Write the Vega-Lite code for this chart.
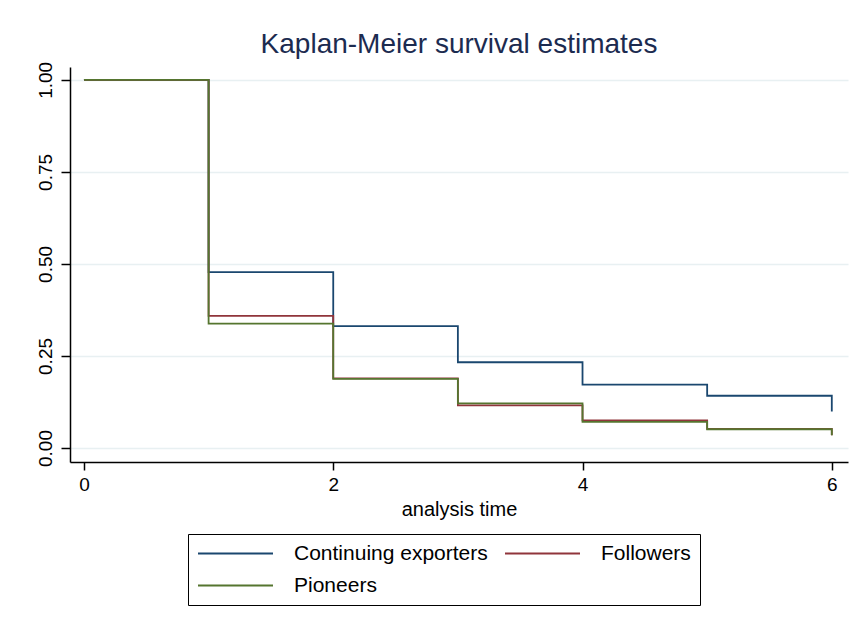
{
  "$schema": "https://vega.github.io/schema/vega-lite/v6.json",
  "width": 778,
  "height": 395,
  "autosize": {"type": "none"},
  "padding": {"left": 70, "top": 67, "right": 8, "bottom": 169},
  "background": "white",
  "title": {
    "text": "Kaplan-Meier survival estimates",
    "font": "Liberation Sans",
    "fontSize": 28,
    "fontWeight": "normal",
    "color": "#1c2b50",
    "anchor": "middle",
    "frame": "group",
    "baseline": "alphabetic",
    "offset": -20
  },
  "data": {
    "values": [
      {"group": "Continuing exporters", "t": 0, "s": 1},
      {"group": "Continuing exporters", "t": 1, "s": 0.478},
      {"group": "Continuing exporters", "t": 2, "s": 0.331},
      {"group": "Continuing exporters", "t": 3, "s": 0.233},
      {"group": "Continuing exporters", "t": 4, "s": 0.172},
      {"group": "Continuing exporters", "t": 5, "s": 0.142},
      {"group": "Continuing exporters", "t": 6, "s": 0.099},
      {"group": "Followers", "t": 0, "s": 1},
      {"group": "Followers", "t": 1, "s": 0.359},
      {"group": "Followers", "t": 2, "s": 0.189},
      {"group": "Followers", "t": 3, "s": 0.116},
      {"group": "Followers", "t": 4, "s": 0.075},
      {"group": "Followers", "t": 5, "s": 0.052},
      {"group": "Followers", "t": 6, "s": 0.035},
      {"group": "Pioneers", "t": 0, "s": 1},
      {"group": "Pioneers", "t": 1, "s": 0.338},
      {"group": "Pioneers", "t": 2, "s": 0.188},
      {"group": "Pioneers", "t": 3, "s": 0.121},
      {"group": "Pioneers", "t": 4, "s": 0.071},
      {"group": "Pioneers", "t": 5, "s": 0.051},
      {"group": "Pioneers", "t": 6, "s": 0.035}
    ]
  },
  "mark": {"type": "line", "interpolate": "step-after", "strokeWidth": 1.8, "clip": false},
  "encoding": {
    "x": {
      "field": "t",
      "type": "quantitative",
      "scale": {"domain": [-0.112, 6.13], "nice": false, "zero": false},
      "axis": {
        "values": [0, 2, 4, 6],
        "title": "analysis time",
        "grid": false,
        "tickSize": 8,
        "labelPadding": 5,
        "titlePadding": 5
      }
    },
    "y": {
      "field": "s",
      "type": "quantitative",
      "scale": {"domain": [-0.038, 1.035], "nice": false, "zero": false},
      "axis": {
        "values": [0, 0.25, 0.5, 0.75, 1],
        "format": ".2f",
        "title": null,
        "grid": true,
        "tickSize": 9,
        "labelAngle": -90,
        "labelAlign": "center",
        "labelBaseline": "bottom",
        "labelPadding": 6
      }
    },
    "color": {
      "field": "group",
      "type": "nominal",
      "scale": {
        "domain": ["Continuing exporters", "Followers", "Pioneers"],
        "range": ["#1a476f", "#90353b", "#55752f"]
      },
      "legend": {
        "title": null,
        "orient": "none",
        "legendX": 118,
        "legendY": 467,
        "direction": "horizontal",
        "columns": 2,
        "symbolType": "stroke",
        "symbolSize": 5625,
        "symbolStrokeWidth": 1.8,
        "clipHeight": 21,
        "rowPadding": 10,
        "columnPadding": 16,
        "labelOffset": 20,
        "labelFont": "Liberation Sans",
        "labelFontSize": 21,
        "labelColor": "#000000",
        "labelLimit": 400,
        "padding": 9,
        "strokeColor": "#000000",
        "fillColor": "#ffffff"
      }
    }
  },
  "config": {
    "view": {"stroke": null},
    "axis": {
      "domainColor": "#000000",
      "domainWidth": 1.5,
      "tickColor": "#000000",
      "tickWidth": 1.5,
      "gridColor": "#e8f0f2",
      "gridWidth": 1.5,
      "labelFont": "Liberation Sans",
      "labelFontSize": 19,
      "labelColor": "#000000",
      "titleFont": "Liberation Sans",
      "titleFontSize": 20,
      "titleFontWeight": "normal",
      "titleColor": "#000000"
    }
  }
}
